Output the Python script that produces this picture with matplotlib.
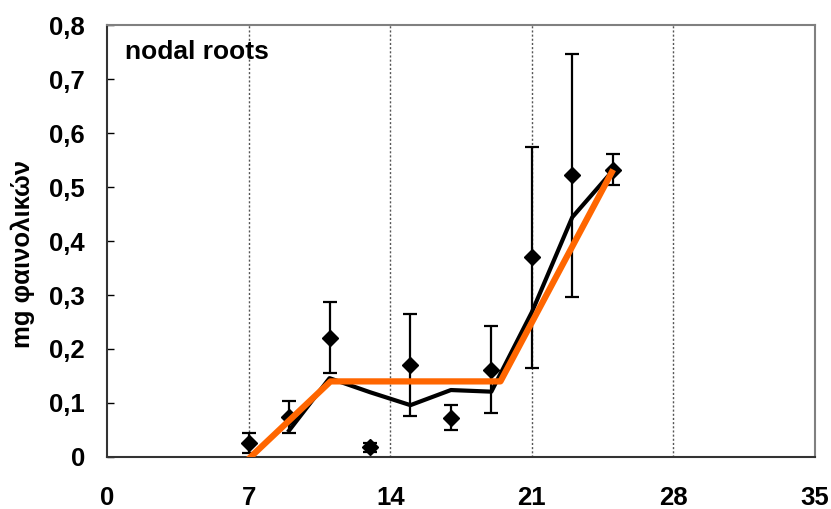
import matplotlib
matplotlib.use('Agg')
import matplotlib.pyplot as plt

plt.rcParams['font.family'] = ['Liberation Sans', 'DejaVu Sans']
plt.rcParams['font.weight'] = 'bold'

# days / mean / error
days = [7, 9, 11, 13, 15, 17, 19, 21, 23, 25]
mean = [0.026, 0.074, 0.221, 0.018, 0.170, 0.073, 0.162, 0.370, 0.522, 0.532]
err = [0.018, 0.030, 0.066, 0.008, 0.094, 0.023, 0.080, 0.205, 0.225, 0.029]

# moving average line (black)
avg_x = [9, 11, 13, 15, 17, 19, 21, 23, 25]
avg_y = [0.049, 0.146, 0.120, 0.096, 0.124, 0.121, 0.268, 0.444, 0.530]

# segmented fit (orange)
fit_x = [7.1, 11.05, 19.45, 24.95]
fit_y = [0.0, 0.140, 0.140, 0.527]

xticks = [0, 7, 14, 21, 28, 35]
yticks = [0, 0.1, 0.2, 0.3, 0.4, 0.5, 0.6, 0.7, 0.8]
ylabels = ['0', '0,1', '0,2', '0,3', '0,4', '0,5', '0,6', '0,7', '0,8']

fig = plt.figure(figsize=(8.31, 5.09), dpi=100)
ax = fig.add_axes([107/831, 1-457/509, (815-107)/831, (457-25)/509])

for g in [7, 14, 21, 28]:
    ax.axvline(g, color='#555555', lw=1, ls=(0, (1.5, 1.5)), zorder=1)

ax.errorbar(days, mean, yerr=err, fmt='D', color='black', ms=8,
            ecolor='black', elinewidth=1.6, capsize=4.7, capthick=1.6, zorder=3)
ax.plot(avg_x, avg_y, color='black', lw=3, zorder=4)
ax.plot(fit_x, fit_y, color='#ff6600', lw=4.5, zorder=5)

ax.set_xlim(0, 35)
ax.set_ylim(0, 0.8)
ax.set_xticks(xticks)
ax.set_xticklabels([str(t) for t in xticks])
ax.set_yticks(yticks)
ax.set_yticklabels(ylabels)
ax.tick_params(direction='in', length=5, width=1, labelsize=18.5, pad=16)
ax.tick_params(axis='x', pad=21, length=0)

for s in ['left', 'bottom']:
    ax.spines[s].set_color('#333333')
    ax.spines[s].set_linewidth(1.5)
for s in ['top', 'right']:
    ax.spines[s].set_color('#808080')
    ax.spines[s].set_linewidth(1.5)

ax.set_ylabel('mg φαινολικών', fontsize=18.5, fontweight='bold')
ax.yaxis.set_label_coords(-0.102, 0.47)
ax.text(0.025, 0.965, 'nodal roots', transform=ax.transAxes, fontsize=19,
        fontweight='bold', va='top', ha='left')

fig.savefig('out.png', dpi=100)
